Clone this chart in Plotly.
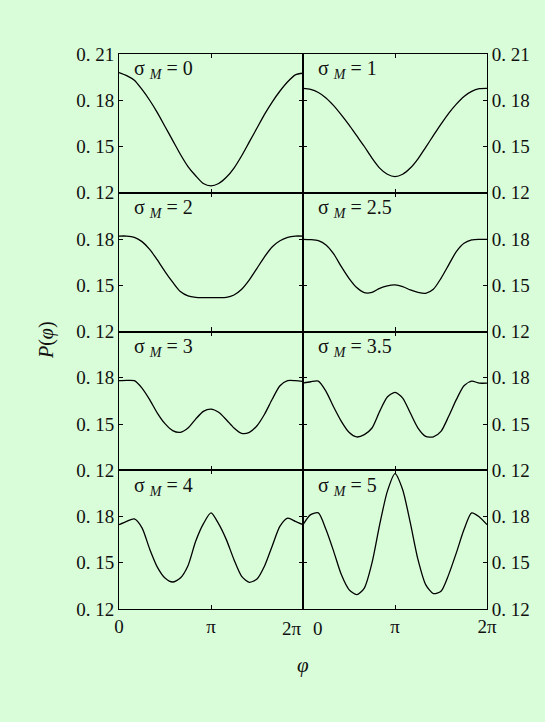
import numpy as np
import plotly.graph_objects as go
from plotly.subplots import make_subplots

# angle grid: 0 .. 2π in steps of π/12
phi = np.linspace(0, 2 * np.pi, 25)

sigma_labels = ["0", "1", "2", "2.5", "3", "3.5", "4", "5"]

p_sigma_0 = [0.1980, 0.1960, 0.1930, 0.1870, 0.1800, 0.1720, 0.1630, 0.1540, 0.1450,
             0.1370, 0.1310, 0.1260, 0.1245, 0.1260, 0.1300, 0.1360, 0.1440, 0.1530,
             0.1620, 0.1710, 0.1790, 0.1860, 0.1920, 0.1965, 0.1975]
p_sigma_1 = [0.1877, 0.1870, 0.1850, 0.1815, 0.1765, 0.1705, 0.1640, 0.1570, 0.1500,
             0.1425, 0.1360, 0.1320, 0.1305, 0.1320, 0.1360, 0.1420, 0.1495, 0.1570,
             0.1645, 0.1715, 0.1775, 0.1825, 0.1858, 0.1875, 0.1877]
p_sigma_2 = [0.1819, 0.1819, 0.1811, 0.1783, 0.1733, 0.1664, 0.1589, 0.1520, 0.1459,
             0.1431, 0.1422, 0.1420, 0.1420, 0.1420, 0.1422, 0.1437, 0.1474, 0.1535,
             0.1610, 0.1686, 0.1750, 0.1789, 0.1811, 0.1819, 0.1819]
p_sigma_2_5 = [0.1798, 0.1796, 0.1789, 0.1761, 0.1703, 0.1621, 0.1545, 0.1485, 0.1452,
               0.1454, 0.1480, 0.1496, 0.1502, 0.1491, 0.1470, 0.1454, 0.1448, 0.1474,
               0.1545, 0.1632, 0.1718, 0.1772, 0.1794, 0.1798, 0.1798]
p_sigma_3 = [0.1781, 0.1783, 0.1781, 0.1733, 0.1658, 0.1571, 0.1502, 0.1457, 0.1446,
             0.1474, 0.1532, 0.1582, 0.1597, 0.1576, 0.1528, 0.1474, 0.1439, 0.1446,
             0.1489, 0.1565, 0.1662, 0.1748, 0.1781, 0.1781, 0.1776]
p_sigma_3_5 = [0.1765, 0.1774, 0.1778, 0.1712, 0.1610, 0.1517, 0.1446, 0.1416, 0.1431,
               0.1474, 0.1582, 0.1675, 0.1705, 0.1668, 0.1571, 0.1474, 0.1420, 0.1416,
               0.1452, 0.1550, 0.1658, 0.1748, 0.1778, 0.1765, 0.1765]
p_sigma_4 = [0.1747, 0.1769, 0.1784, 0.1726, 0.1589, 0.1472, 0.1401, 0.1375, 0.1401,
             0.1481, 0.1639, 0.1752, 0.1823, 0.1752, 0.1650, 0.1520, 0.1412, 0.1373,
             0.1395, 0.1481, 0.1611, 0.1737, 0.1789, 0.1769, 0.1747]
p_sigma_5 = [0.1747, 0.1812, 0.1823, 0.1715, 0.1574, 0.1423, 0.1326, 0.1293, 0.1336,
             0.1499, 0.1747, 0.1963, 0.2078, 0.1974, 0.1758, 0.1520, 0.1358, 0.1300,
             0.1315, 0.1423, 0.1564, 0.1715, 0.1823, 0.1797, 0.1747]

curves = [p_sigma_0, p_sigma_1, p_sigma_2, p_sigma_2_5,
          p_sigma_3, p_sigma_3_5, p_sigma_4, p_sigma_5]

y_ticks_top = [0.12, 0.15, 0.18, 0.21]
y_ticks_lower = [0.12, 0.15, 0.18]
x_tick_vals = [0, np.pi, 2 * np.pi]
x_tick_text = ["0", "π", "2π"]

BG = "#d9fdd9"
FONT = "Liberation Serif"
INK = "#111111"

fig = make_subplots(rows=4, cols=2, horizontal_spacing=0, vertical_spacing=0)

for i, (lab, ys) in enumerate(zip(sigma_labels, curves)):
    r, c = i // 2 + 1, i % 2 + 1
    fig.add_trace(go.Scatter(x=phi, y=ys, mode="lines",
                             line=dict(color="black", width=1.3, shape="spline", smoothing=0.7),
                             showlegend=False, hoverinfo="skip"), row=r, col=c)
    fig.add_annotation(text=f"σ <sub><i>M</i></sub> = {lab}",
                       xref="x domain" if i == 0 else f"x{i+1} domain",
                       yref="y domain" if i == 0 else f"y{i+1} domain",
                       x=0.07, y=0.885, xanchor="left", yanchor="middle",
                       showarrow=False, font=dict(family=FONT, size=20, color=INK))

    yt = y_ticks_top if r == 1 else y_ticks_lower
    fig.update_yaxes(range=[0.12, 0.21], tickvals=yt,
                     ticktext=[f"0. {round(v * 100):d}" for v in yt],
                     side="left" if c == 1 else "right",
                     ticks="inside", ticklen=4, tickwidth=1.1, tickcolor="black",
                     showline=True, linecolor="black", linewidth=1.1, mirror="allticks",
                     showgrid=False, zeroline=False,
                     tickfont=dict(family=FONT, size=19, color=INK),
                     row=r, col=c)

    # the two labels meeting at the shared middle edge are placed separately below
    if r == 4 and c == 1:
        ttext = [x_tick_text[0], x_tick_text[1], ""]
    elif r == 4 and c == 2:
        ttext = ["", x_tick_text[1], x_tick_text[2]]
    else:
        ttext = x_tick_text
    fig.update_xaxes(range=[0, 2 * np.pi], tickvals=x_tick_vals, ticktext=ttext,
                     showticklabels=(r == 4),
                     ticks="inside", ticklen=4, tickwidth=1.1, tickcolor="black",
                     showline=True, linecolor="black", linewidth=1.1, mirror="allticks",
                     showgrid=False, zeroline=False,
                     tickfont=dict(family=FONT, size=19, color=INK),
                     row=r, col=c)

# edge labels at the shared boundary of the bottom row, nudged apart
fig.add_annotation(text=x_tick_text[2], xref="x7", yref="y7 domain",
                   x=x_tick_vals[2], y=0, xanchor="right", yanchor="middle",
                   xshift=1, yshift=-19, showarrow=False,
                   font=dict(family=FONT, size=19, color=INK))
fig.add_annotation(text=x_tick_text[0], xref="x8", yref="y8 domain",
                   x=x_tick_vals[0], y=0, xanchor="center", yanchor="middle",
                   xshift=15, yshift=-19, showarrow=False,
                   font=dict(family=FONT, size=19, color=INK))

# axis titles
fig.add_annotation(text="<i>P</i>(<i>φ</i>)", xref="paper", yref="paper",
                   x=-0.195, y=0.485, textangle=-90, showarrow=False,
                   xanchor="center", yanchor="middle",
                   font=dict(family=FONT, size=20, color=INK))
fig.add_annotation(text="<i>φ</i>", xref="paper", yref="paper",
                   x=0.5, y=-0.101, showarrow=False,
                   xanchor="center", yanchor="middle",
                   font=dict(family=FONT, size=21, color=INK))

fig.update_layout(width=545, height=722,
                  margin=dict(l=119, r=58, t=54, b=113),
                  paper_bgcolor=BG, plot_bgcolor=BG)

fig.write_html("out.html")
